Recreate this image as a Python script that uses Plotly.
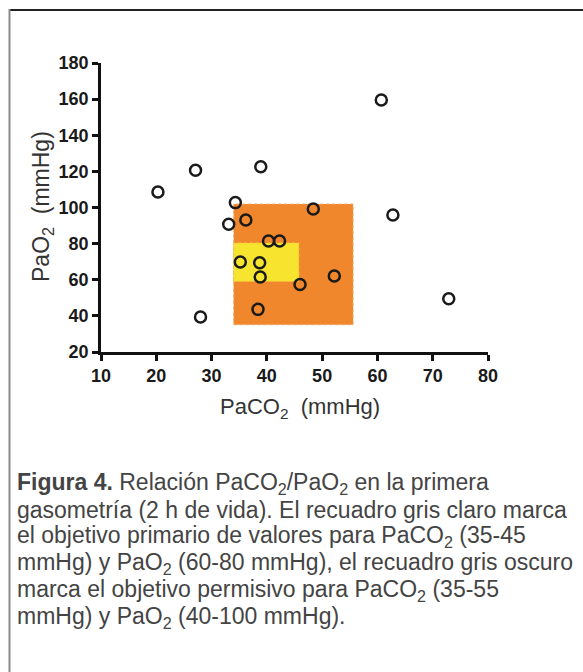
import plotly.graph_objects as go

# ---- data ----
paco2 = [20.3, 27.1, 28.0, 38.9, 34.3, 33.1, 36.2, 48.4, 40.3, 42.3,
         35.2, 38.7, 38.8, 46.0, 52.2, 38.4, 60.7, 62.8, 72.9]
pao2 = [108.6, 120.6, 39.4, 122.6, 102.7, 90.7, 93.1, 99.2, 81.5, 81.5,
        69.8, 69.4, 61.5, 57.4, 62.1, 43.6, 159.5, 95.9, 49.5]

# target boxes as drawn (PaCO2 range, PaO2 range)
permisivo_x = [34.0, 55.6]
permisivo_y = [35.1, 101.9]
primario_x = [34.0, 45.8]
primario_y = [59.1, 80.4]

x_ticks = [10, 20, 30, 40, 50, 60, 70, 80]
y_ticks = [20, 40, 60, 80, 100, 120, 140, 160, 180]

caption_lines = [
    "<b>Figura 4.</b> Relación PaCO<sub>2</sub>/PaO<sub>2</sub> en la primera",
    "gasometría (2 h de vida). El recuadro gris claro marca",
    "el objetivo primario de valores para PaCO<sub>2</sub> (35-45",
    "mmHg) y PaO<sub>2</sub> (60-80 mmHg), el recuadro gris oscuro",
    "marca el objetivo permisivo para PaCO<sub>2</sub> (35-55",
    "mmHg) y PaO<sub>2</sub> (40-100 mmHg).",
]

W, H = 583, 672
L, R, T, B = 101, 95, 63, 320
PW, PH = W - L - R, H - T - B


def px2x(px):
    return (px - L) / PW


def py2y(py):
    return (H - B - py) / PH


fig = go.Figure()

fig.add_trace(go.Scatter(
    x=paco2, y=pao2, mode="markers",
    marker=dict(symbol="circle-open", size=11, color="#1a1a1a",
                line=dict(width=2.5, color="#1a1a1a")),
    cliponaxis=False, showlegend=False, hoverinfo="x+y",
))

shapes = [
    dict(type="rect", xref="x", yref="y", layer="below",
         x0=permisivo_x[0], x1=permisivo_x[1], y0=permisivo_y[0], y1=permisivo_y[1],
         fillcolor="#F0872D", line=dict(width=1, color="#F4A65E", dash="dot")),
    dict(type="rect", xref="x", yref="y", layer="below",
         x0=primario_x[0], x1=primario_x[1], y0=primario_y[0], y1=primario_y[1],
         fillcolor="#F6E42F", line=dict(width=1, color="#F2C040", dash="dot")),
    # frame
    dict(type="line", xref="paper", yref="paper",
         x0=px2x(9), x1=px2x(583), y0=py2y(10), y1=py2y(10),
         line=dict(width=2, color="#222222")),
    dict(type="line", xref="paper", yref="paper",
         x0=px2x(9.5), x1=px2x(9.5), y0=py2y(9), y1=py2y(672),
         line=dict(width=2, color="#8a8a8a")),
]

annotations = [
    dict(text="PaCO<sub>2</sub>&nbsp;&nbsp;(mmHg)", xref="paper", yref="paper",
         x=px2x(218), y=py2y(408), xanchor="left", yanchor="middle",
         showarrow=False, font=dict(family="Liberation Sans, Arial", size=22, color="#333333")),
    dict(text="PaO<sub>2</sub>&nbsp;&nbsp;(mmHg)", xref="paper", yref="paper",
         x=px2x(42), y=py2y(207), xanchor="center", yanchor="middle", textangle=-90,
         showarrow=False, font=dict(family="Liberation Sans, Arial", size=23, color="#333333")),
]

line_y0 = 483
line_step = 26.8
for i, t in enumerate(caption_lines):
    annotations.append(dict(
        text=t, xref="paper", yref="paper", x=px2x(15), y=py2y(line_y0 + i * line_step),
        xanchor="left", yanchor="middle", showarrow=False, align="left",
        font=dict(family="Liberation Sans, Arial", size=23, color="#444444"),
    ))

axis_common = dict(
    showline=True, linewidth=2.5, linecolor="#111111", mirror=False,
    ticks="outside", ticklen=6, tickwidth=2.5, tickcolor="#111111",
    showgrid=False, zeroline=False,
    tickfont=dict(family="Liberation Sans, Arial", size=18, color="#1a1a1a", weight="bold"),
)

fig.update_layout(
    width=W, height=H,
    margin=dict(l=L, r=R, t=T, b=B, pad=0),
    paper_bgcolor="white", plot_bgcolor="white",
    xaxis=dict(range=[10, 80], tickvals=x_ticks, **axis_common),
    yaxis=dict(range=[20, 180], tickvals=y_ticks, **axis_common),
    shapes=shapes, annotations=annotations,
)

fig.write_html("out.html")
